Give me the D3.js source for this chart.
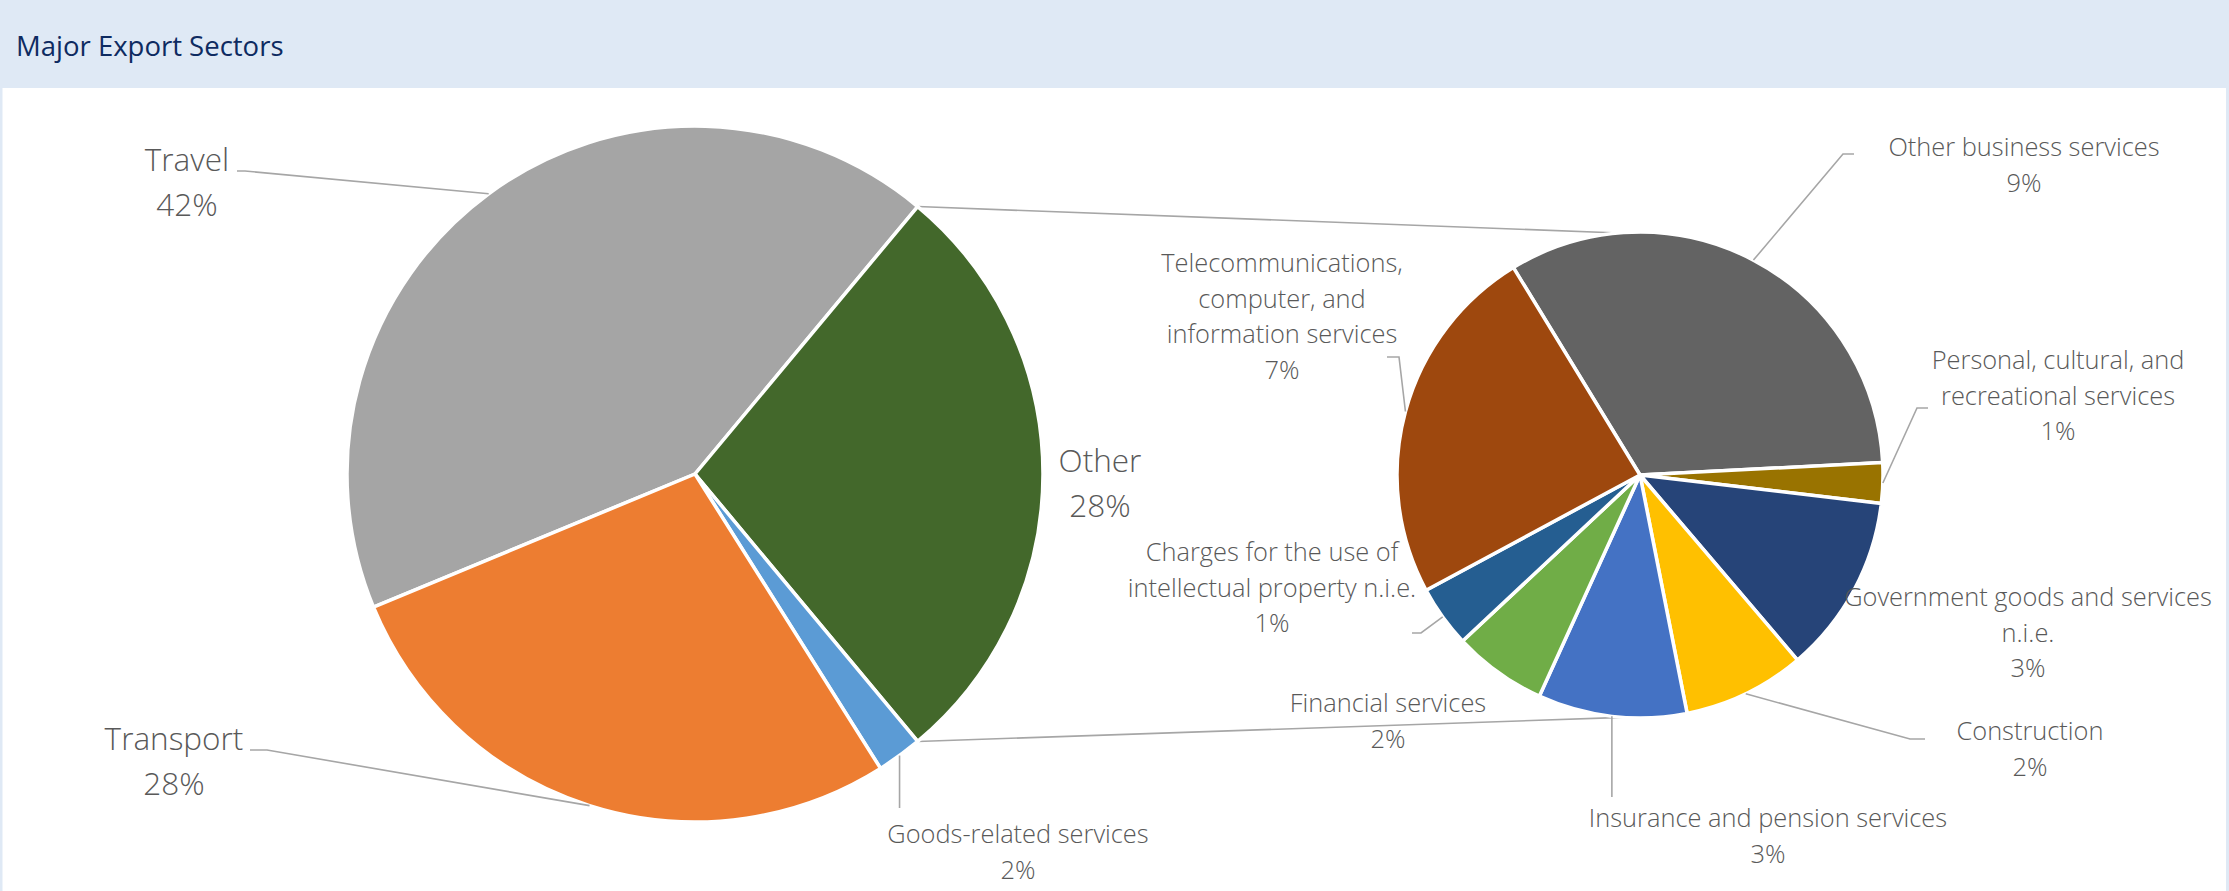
<!DOCTYPE html>
<html><head><meta charset="utf-8">
<script src="https://cdn.jsdelivr.net/npm/d3@7"></script>
<style>
html,body{margin:0;padding:0;background:#fff;}
svg{display:block;}
text{font-family:'Open Sans','Noto Sans',sans-serif;}
</style></head><body>
<svg id="chart" width="2229" height="891"></svg>
<script>
// ---------------- data ----------------
const chartTitle = "Major Export Sectors";

const primaryCategories = ["Travel", "Other", "Goods-related services", "Transport"];
const primaryValues = [42.3, 27.9, 2.1, 27.7];
const primaryColors = ["#a5a5a5", "#43682b", "#5b9bd5", "#ed7d31"];
const primaryLabelLines = [["Travel"], ["Other"], ["Goods-related services"], ["Transport"]];

const secondaryCategories = [
  "Other business services",
  "Personal, cultural, and recreational services",
  "Government goods and services n.i.e.",
  "Construction",
  "Insurance and pension services",
  "Financial services",
  "Charges for the use of intellectual property n.i.e.",
  "Telecommunications, computer, and information services"
];
const secondaryValues = [9.2, 0.75, 3.33, 2.27, 2.77, 1.74, 1.15, 6.75];
const secondaryColors = ["#636363", "#997300", "#264478", "#ffc000", "#4472c4", "#70ad47", "#255e91", "#9e480e"];
const secondaryLabelLines = [
  ["Other business services"],
  ["Personal, cultural, and", "recreational services"],
  ["Government goods and services", "n.i.e."],
  ["Construction"],
  ["Insurance and pension services"],
  ["Financial services"],
  ["Charges for the use of", "intellectual property n.i.e."],
  ["Telecommunications,", "computer, and", "information services"]
];

// ---------------- layout ----------------
const W = 2229, H = 891;
const deg = Math.PI / 180;
const bigFont = {size: 31.5, lh: 45};
const smallFont = {size: 25.4, lh: 35.5};
const primaryPie = {cx: 695, cy: 474, r: 348, start: -112.5};
const secondaryPie = {cx: 1640, cy: 475, r: 243, start: -31.4};

// label placement offsets from each pie centre (px); leader: end point near label + horizontal elbow
const primaryLabelLayout = [
  {x: -508, y: -303, f: bigFont, leader: {x: -458, y: -303, h: 8}},
  {x: 405, y: -2, f: bigFont, leader: null},
  {x: 323, y: 369, f: smallFont, leader: {vertical: true, y: 334}},
  {x: -521, y: 276, f: bigFont, leader: {x: -445, y: 276, h: 17}}
];
const secondaryLabelLayout = [
  {x: 384, y: -319, f: smallFont, leader: {x: 214, y: -321, h: -11}},
  {x: 418, y: -106, f: smallFont, leader: {x: 288, y: -67, h: -11}},
  {x: 388, y: 131, f: smallFont, leader: null},
  {x: 390, y: 265, f: smallFont, leader: {x: 285, y: 264, h: -15}},
  {x: 128, y: 352, f: smallFont, leader: {vertical: true, y: 322}},
  {x: -252, y: 237, f: smallFont, leader: null},
  {x: -368, y: 86, f: smallFont, leader: {x: -228, y: 158, h: 9}},
  {x: -358, y: -203, f: smallFont, leader: {x: -253, y: -118, h: 12}}
];

const svg = d3.select("#chart");

// card frame & title bar
const frameColor = "#dfe9f5";
svg.append("rect").attr("x", 0).attr("y", 0).attr("width", W).attr("height", H).attr("fill", "#fff");
svg.append("rect").attr("x", 0).attr("y", 0).attr("width", W).attr("height", 88).attr("fill", frameColor);
svg.append("rect").attr("x", 0).attr("y", 0).attr("width", 2.5).attr("height", H).attr("fill", frameColor);
svg.append("rect").attr("x", W - 3).attr("y", 0).attr("width", 3).attr("height", H).attr("fill", frameColor);
svg.append("text").attr("x", 16).attr("y", 56).attr("fill", "#0e2b61")
  .style("font-size", "27.5px").text(chartTitle);

function pointOn(p, ang, rr) {
  return [p.cx + rr * Math.sin(ang), p.cy - rr * Math.cos(ang)];
}

function buildArcs(values, p) {
  return d3.pie().sort(null).value(d => d)
    .startAngle(p.start * deg).endAngle(p.start * deg + 2 * Math.PI)(values);
}

const primaryArcs = buildArcs(primaryValues, primaryPie);
const secondaryArcs = buildArcs(secondaryValues, secondaryPie);

// connector lines between "Other" slice and the secondary pie
const otherIdx = primaryCategories.indexOf("Other");
const oa = primaryArcs[otherIdx];
const connTop0 = pointOn(primaryPie, oa.startAngle, primaryPie.r);
const connBot0 = pointOn(primaryPie, oa.endAngle, primaryPie.r);
const connTop1 = pointOn(secondaryPie, -5 * deg, secondaryPie.r);
const connBot1 = pointOn(secondaryPie, 184 * deg, secondaryPie.r);
const conn = svg.append("g").attr("stroke", "#a6a6a6").attr("stroke-width", 1.6).attr("fill", "none");
conn.append("line").attr("x1", connTop0[0]).attr("y1", connTop0[1]).attr("x2", connTop1[0]).attr("y2", connTop1[1]);
conn.append("line").attr("x1", connBot0[0]).attr("y1", connBot0[1]).attr("x2", connBot1[0]).attr("y2", connBot1[1]);

function drawPie(arcs, p, colors) {
  const arcGen = d3.arc().innerRadius(0).outerRadius(p.r);
  svg.append("g").attr("transform", `translate(${p.cx},${p.cy})`)
    .selectAll("path").data(arcs).join("path")
    .attr("d", arcGen)
    .attr("fill", (d, i) => colors[i])
    .attr("stroke", "#fff").attr("stroke-width", 3.5).attr("stroke-linejoin", "round");
}
drawPie(primaryArcs, primaryPie, primaryColors);
drawPie(secondaryArcs, secondaryPie, secondaryColors);

function drawLabels(arcs, p, lines, layout, values) {
  const gL = svg.append("g").attr("stroke", "#a6a6a6").attr("stroke-width", 1.6).attr("fill", "none");
  const gT = svg.append("g").attr("fill", "#595959").attr("text-anchor", "middle").style("font-weight", 300);
  arcs.forEach((a, i) => {
    const lay = layout[i];
    const mid = (a.startAngle + a.endAngle) / 2;
    const pt = pointOn(p, mid, p.r);
    if (lay.leader) {
      let pts;
      if (lay.leader.vertical) {
        pts = [[pt[0], pt[1]], [pt[0], p.cy + lay.leader.y]];
      } else {
        const ex = p.cx + lay.leader.x, ey = p.cy + lay.leader.y;
        pts = [[ex, ey], [ex + lay.leader.h, ey], pt];
      }
      gL.append("path").attr("d", d3.line()(pts));
    }
    const all = lines[i].concat([Math.round(values[i]) + "%"]);
    const t = gT.append("text").attr("x", p.cx + lay.x).attr("y", p.cy + lay.y)
      .style("font-size", lay.f.size + "px");
    all.forEach((s, k) => {
      t.append("tspan").attr("x", p.cx + lay.x).attr("dy", k === 0 ? 0 : lay.f.lh).text(s);
    });
  });
}
drawLabels(primaryArcs, primaryPie, primaryLabelLines, primaryLabelLayout, primaryValues);
drawLabels(secondaryArcs, secondaryPie, secondaryLabelLines, secondaryLabelLayout, secondaryValues);
</script>
</body></html>
